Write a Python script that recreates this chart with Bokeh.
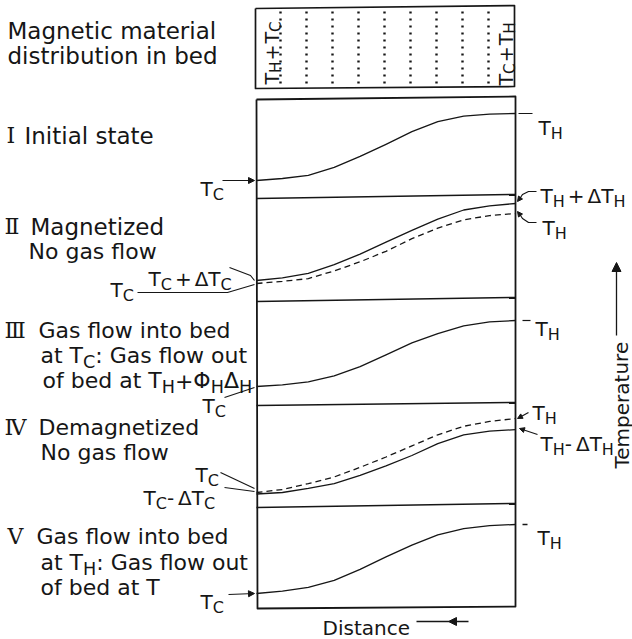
import math
from bokeh.plotting import figure
from bokeh.models import Range1d, ColumnDataSource, Arrow, NormalHead
from bokeh.core.properties import value
from bokeh.embed import file_html
from bokeh.resources import INLINE

# ---------------- data (temperature profiles along the bed, T_C = 0, T_H = 10) -------------
distance = [0.0, 0.1, 0.2, 0.3, 0.4, 0.5, 0.6, 0.7, 0.8, 0.9, 1.0]
temp_initial = [0.0, 0.3, 0.75, 1.95, 3.6, 5.4, 7.3, 8.8, 9.6, 9.9, 10.0]
temp_magnetized = [0.43, 0.8, 1.45, 2.7, 4.2, 5.9, 7.6, 9.2, 10.5, 11.1, 11.43]
temp_before_mag = [0.0, 0.3, 0.7, 1.8, 3.1, 4.6, 6.4, 7.9, 9.1, 9.7, 10.0]
temp_gas_cold = [0.0, 0.25, 0.7, 1.6, 3.0, 4.8, 6.6, 8.0, 9.2, 9.8, 10.0]
temp_before_demag = [0.0, 0.4, 1.2, 2.1, 3.4, 4.8, 6.3, 7.8, 8.95, 9.6, 10.0]
temp_demagnetized = [-0.2, 0.0, 0.55, 1.2, 2.3, 3.6, 5.0, 6.6, 7.8, 8.3, 8.5]
temp_gas_hot = [0.0, 0.35, 0.9, 1.9, 3.5, 5.3, 7.0, 8.5, 9.4, 9.85, 10.0]

stage_numerals = ["\u2160", "\u2161", "\u2162", "\u2163", "\u2164"]
stage_titles = ["Initial state", "Magnetized", "Gas flow into bed", "Demagnetized", "Gas flow into bed"]

INK = "#161616"
FONT = "DejaVu Sans"
W, H = 632, 639

p = figure(width=W, height=H, x_range=Range1d(0, W), y_range=Range1d(H, 0),
           output_backend="svg", toolbar_location=None,
           x_axis_location=None, y_axis_location=None, min_border=0)
p.outline_line_color = None
p.grid.visible = False
p.background_fill_color = "white"
p.border_fill_color = "white"

# ---- scales: distance across the bed, temperature per stage panel ----
BX0, BX1 = 256, 515
p.extra_x_ranges = {"dist": Range1d(-BX0 / (BX1 - BX0), (W - BX0) / (BX1 - BX0))}
panel_anchor = {"p1": (180, 113), "p2": (283, 213), "p3": (386, 320), "p4": (492, 418), "p5": (593, 524)}
for name, (yc, yh) in panel_anchor.items():
    k = (yc - yh) / 10.0
    p.extra_y_ranges[name] = Range1d((yc - H) / k, yc / k)

curves = [
    ("p1", temp_initial, None),
    ("p2", temp_before_mag, "6 4"),
    ("p2", temp_magnetized, None),
    ("p3", temp_gas_cold, None),
    ("p4", temp_before_demag, "6 4"),
    ("p4", temp_demagnetized, None),
    ("p5", temp_gas_hot, None),
]
for rn, vals, dash in curves:
    kw = dict(line_dash=dash) if dash else {}
    p.line(distance, vals, x_range_name="dist", y_range_name=rn,
           line_color=INK, line_width=1.3, line_join="round", **kw)

# ---- frames ----
def poly(pts, lw=1.6, dash=None):
    xs = [q[0] for q in pts]
    ys = [q[1] for q in pts]
    kw = dict(line_dash=dash) if dash else {}
    p.line(xs, ys, line_color=INK, line_width=lw, line_join="round", **kw)

poly([(255, 8), (514, 5), (514, 86), (255, 88), (255, 8)], 1.7)
poly([(256, 99), (515, 96), (515, 606), (257, 608), (256, 99)], 1.8)
for yl, yr in [(198, 194), (301, 297), (405, 402), (507, 503)]:
    poly([(256, yl), (515, yr)], 1.5)
for k in range(1, 10):
    x = 254 + 26 * k
    poly([(x, 11), (x, 85)], 2.4, "2 5")

# ---- texts ----
WID = {" ": 651, "+": 1716, "-": 739, ":": 690, "T": 1251, "H": 1540, "C": 1430,
       "\u0394": 1401, "\u03a6": 1612, "a": 1255, "t": 803, "o": 1253, "f": 721,
       "b": 1300, "e": 1260, "d": 1300}

def tw(s, size):
    return sum(WID.get(ch, 1250) for ch in s) / 2048.0 * size

T = dict(x=[], y=[], text=[], size=[], angle=[])

def put(x, y, s, size, angle=0.0):
    T["x"].append(x); T["y"].append(y); T["text"].append(s)
    T["size"].append(f"{size:.1f}px"); T["angle"].append(angle)

def rich(x, y, pieces, size=20, sub=0.8, dy=6):
    for s, kind in pieces:
        if kind == "g":
            x += s
        elif kind == "s":
            put(x, y + dy, s, size * sub)
            x += tw(s, size * sub)
        else:
            put(x, y, s, size)
            x += tw(s, size)

def rich_v(x, y, pieces, size=18, sub=0.8, dx=4):
    a = math.pi / 2
    for s, kind in pieces:
        if kind == "g":
            y -= s
        elif kind == "s":
            put(x + dx, y, s, size * sub, a)
            y -= tw(s, size * sub)
        else:
            put(x, y, s, size, a)
            y -= tw(s, size)

MS = 22
put(7, 30, "Magnetic material", 23)
put(7, 55, "distribution in bed", 23)
put(24, 135, stage_titles[0], 23)
put(30, 226, stage_titles[1], 23)
put(28, 251, "No gas flow", MS)
put(38, 330, stage_titles[2], MS)
rich(40, 355, [("at ", "n"), ("T", "n"), ("C", "s"), (" : Gas flow out", "n")], MS)
rich(42, 380, [("of bed at ", "n"), ("T", "n"), ("H", "s"), ("+", "n"), ("\u03a6", "n"),
               ("H", "s"), ("\u0394", "n"), ("H", "s")], MS)
put(38, 427, stage_titles[3], MS)
put(40, 452, "No gas flow", MS)
put(36, 536, stage_titles[4], MS)
rich(40, 562, [("at ", "n"), ("T", "n"), ("H", "s"), (" : Gas flow out", "n")], MS)
put(40, 587, "of bed at T", MS)
put(322, 627, "Distance", 20)

TC = [("T", "n"), ("C", "s")]
TH = [("T", "n"), ("H", "s")]
rich(200, 188, TC)
rich(148, 278, TC + [(3, "g"), ("+", "n"), (3, "g"), ("\u0394", "n")] + TC)
rich(110, 289, TC)
rich(202, 405, TC)
rich(195, 474, TC)
rich(143, 497, TC + [("-", "n"), (4, "g"), ("\u0394", "n")] + TC)
rich(200, 601, TC)
rich(538, 127, TH)
rich(540, 195, TH + [(3, "g"), ("+", "n"), (3, "g"), ("\u0394", "n")] + TH)
rich(542, 227, TH)
rich(535, 328, TH)
rich(532, 412, TH)
rich(540, 443, TH + [("-", "n"), (4, "g"), ("\u0394", "n")] + TH)
rich(537, 537, TH)

rich_v(271, 84, TH + [(1, "g"), ("+", "n"), (1, "g")] + TC, 19)
rich_v(505, 85, TC + [(1, "g"), ("+", "n"), (1, "g")] + TH, 19)
put(621, 468, "Temperature", 20, math.pi / 2)

src = ColumnDataSource(T)
p.text(x="x", y="y", text="text", angle="angle", text_font_size="size", source=src,
       text_font=value(FONT), text_color=INK, text_align="left", text_baseline="alphabetic")

nx = [6, 4, 4, 4, 7]
ny = [135, 226, 330, 427, 536]
p.text(x=nx, y=ny, text=stage_numerals, text_font=value("DejaVu Serif"), text_font_size="22px",
       text_color=INK, text_align="left", text_baseline="alphabetic")

# ---- leaders and arrows ----
def arrow(x0, y0, x1, y1, size=6, lw=1.2):
    p.add_layout(Arrow(x_start=x0, y_start=y0, x_end=x1, y_end=y1, line_color=INK, line_width=lw,
                       end=NormalHead(size=size, fill_color=INK, line_color=INK, line_width=1)))

arrow(222, 180, 254, 180)
poly([(229, 267), (250, 275), (254, 280)], 1.2)
poly([(137, 292), (227, 292), (254, 284)], 1.2)
poly([(224, 397), (254, 387)], 1.2)
poly([(220, 472), (254, 488)], 1.2)
poly([(224, 487), (254, 491)], 1.2)
arrow(228, 594, 254, 593)

poly([(518, 113), (532, 113)], 1.2)
poly([(536, 191), (528, 191), (522, 194), (520, 197)], 1.2)
arrow(520, 197, 517, 201, 5)
poly([(536, 222), (528, 222), (522, 218), (520, 215)], 1.2)
arrow(520, 215, 517, 211, 5)
poly([(522, 320), (530, 320)], 1.2)
arrow(528, 412, 517, 418, 5)
arrow(537, 434, 519, 428, 5)
poly([(522, 524), (527, 524)], 1.5)

poly([(416, 621), (449, 621)], 1.3)
arrow(468, 621, 448, 621, 8, 1.5)
arrow(616, 335, 616, 262, 9, 1.3)

open("out.html", "w").write(file_html(p, INLINE))
